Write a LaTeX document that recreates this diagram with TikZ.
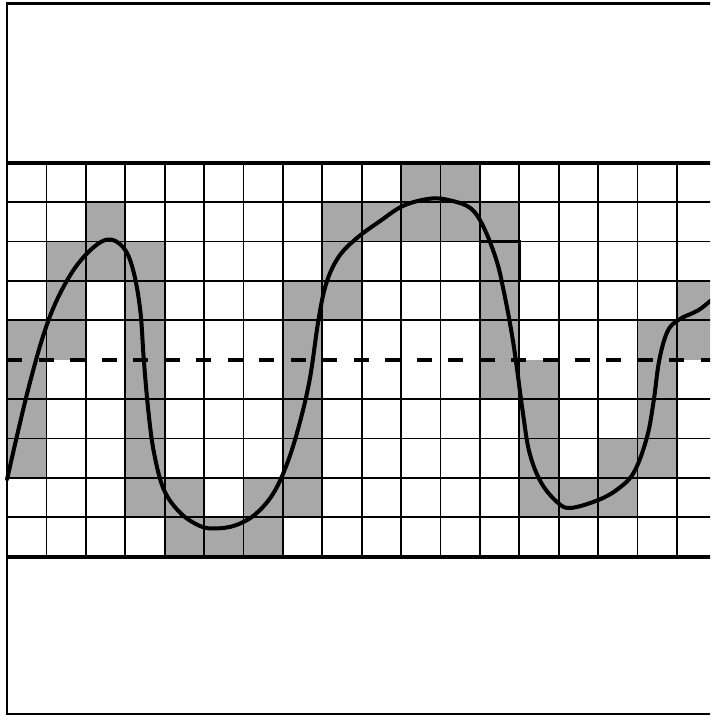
\documentclass[tikz,border=0pt]{standalone}
\definecolor{cellgray}{RGB}{168,168,168}
\begin{document}
\begin{tikzpicture}[x=1cm,y=1cm,
  gridline/.style={line width=1.3pt},
  frameline/.style={line width=1.6pt},
  boldline/.style={line width=2.9pt},
  midline/.style={line width=2.7pt, dash pattern=on 0.38cm off 0.42cm},
  signal/.style={line width=2.9pt, line join=round, line cap=round}]
\useasboundingbox (-0.18,-4.04) rectangle (17.84,14.13);
\clip (-0.18,-4.04) rectangle (17.84,14.13);
% shaded cells
\foreach \c/\r in {0/2,0/3,0/4,0/5, 1/5,1/6,1/7, 2/7,2/8,
  3/1,3/2,3/3,3/4,3/5,3/6,3/7, 4/0,4/1, 5/0, 6/0,6/1,
  7/1,7/2,7/3,7/4,7/5,7/6, 8/6,8/7,8/8, 9/8, 10/8,10/9, 11/8,11/9,
  12/4,12/5,12/6,12/7,12/8, 13/1,13/2,13/3,13/4, 14/1, 15/1,15/2,
  16/2,16/3,16/4,16/5, 17/5,17/6}
  \fill[cellgray] (\c,\r) rectangle ++(1,1);
% grid
\foreach \x in {1,...,17} \draw[gridline] (\x,0) -- (\x,10);
\foreach \y in {1,2,3,4,6,7,8,9} \draw[gridline] (0,\y) -- (18.3,\y);
\draw[line width=1.8pt] (12,7) rectangle (13,8);
% frame
\draw[frameline] (18.3,14.04) -- (0,14.04) -- (0,-3.98) -- (18.3,-3.98);
% thick band borders
\draw[boldline] (0,0) -- (18.3,0);
\draw[boldline] (0,10) -- (18.3,10);
% dashed middle line
\draw[midline] (0,5) -- (18.3,5);
% signal curve
\draw[signal] plot[smooth, tension=0.6] coordinates {
 (0,1.97) (0.53,4.23) (1.02,5.92) (1.52,7.01) (2.03,7.70) (2.54,8.05)
 (2.95,7.85) (3.20,7.27) (3.38,6.25) (3.47,4.99) (3.59,3.65) (3.73,2.63)
 (3.98,1.70) (4.40,1.11) (4.90,0.78) (5.30,0.72) (5.80,0.80) (6.30,1.08)
 (6.75,1.60) (7.10,2.35) (7.40,3.30) (7.68,4.50) (7.90,6.0) (8.10,6.94)
 (8.42,7.62) (8.89,8.10) (9.48,8.53) (10.06,8.91) (10.75,9.09) (11.26,9.04)
 (11.77,8.84) (12.10,8.35) (12.42,7.52) (12.60,6.76) (12.78,5.82) (12.91,4.99)
 (13.09,3.65) (13.26,2.63) (13.56,1.87) (13.98,1.37) (14.31,1.24) (15.0,1.44)
 (15.5,1.72) (15.91,2.15) (16.24,3.04) (16.41,3.97) (16.55,4.99) (16.76,5.72)
 (17.05,6.02) (17.53,6.25) (17.87,6.51) (18.2,6.75)};
\end{tikzpicture}
\end{document}
